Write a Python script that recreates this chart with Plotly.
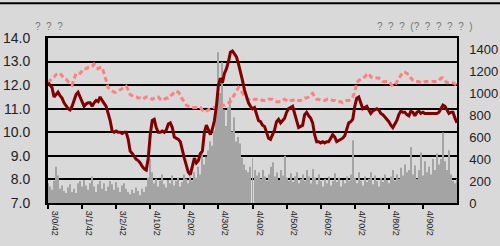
import plotly.graph_objects as go

# ---- data (index = trading day) ----
tick_labels = ["3/0/42", "3/1/42", "3/2/42", "4/10/2", "4/20/2", "4/30/2",
               "4/40/2", "4/50/2", "4/60/2", "4/70/2", "4/80/2", "4/90/2"]
tick_pos = [0, 17, 34, 51, 68, 85, 102, 119, 136, 153, 170, 187]

price = [12.1, 12.0, 11.9, 11.5, 11.6, 11.7, 11.55, 11.45, 11.25, 11.15,
         11.0, 10.95, 11.1, 11.35, 11.6, 11.7, 11.5, 11.35, 11.1, 11.2,
         11.25, 11.25, 11.1, 11.25, 11.35, 11.3, 11.5, 11.35, 11.2, 11.1,
         10.8, 10.5, 10.05, 10.0, 10.05, 10.0, 10.0, 9.95, 10.0, 10.0,
         9.7, 9.2, 9.1, 8.95, 8.85, 8.8, 8.7, 8.55, 8.45, 8.4,
         8.9, 9.9, 10.5, 10.55, 10.2, 10.0, 10.0, 10.05, 10.0, 10.1,
         10.35, 10.4, 10.2, 9.8, 9.75, 9.7, 9.6, 9.2, 8.9, 8.6,
         8.3, 8.2, 8.5, 8.9, 8.7, 8.8, 9.1, 9.2, 10.0, 10.3,
         10.1, 9.9, 10.15, 10.5, 11.1, 12.0, 12.3, 12.1, 12.5, 12.7,
         13.0, 13.4, 13.45, 13.3, 13.2, 12.9, 12.6, 12.2, 11.8, 11.5,
         11.25, 11.1, 11.0, 11.05, 10.8, 10.5, 10.45, 10.3, 10.25, 10.0,
         9.75, 9.7, 9.9, 10.1, 10.45, 10.55, 10.4, 10.5, 10.6, 10.85,
         11.0, 11.05, 11.1, 10.8, 10.5, 10.2, 10.25, 10.3, 10.75, 10.85,
         10.7, 10.6, 10.4, 9.9, 9.6, 9.6, 9.55, 9.6, 9.55, 9.6,
         9.6, 9.75, 9.9, 9.8, 9.6, 9.65, 9.7, 9.75, 9.85, 10.1,
         10.4, 10.45, 10.55, 11.1, 11.45, 11.5, 11.2, 11.0, 11.05, 11.1,
         10.95, 10.8, 10.9, 10.95, 11.0, 10.95, 10.8, 10.75, 10.65, 10.55,
         10.45, 10.3, 10.2, 10.35, 10.5, 10.75, 10.9, 10.85, 10.85, 10.75,
         10.7, 10.9, 10.85, 10.7, 10.85, 10.9, 10.8, 10.85, 10.8, 10.8,
         10.8, 10.8, 10.8, 10.8, 10.8, 10.85, 11.0, 11.15, 11.1, 10.95,
         10.8, 10.85, 10.85, 10.6, 10.4]

avg_price = [12.1, 12.2, 12.3, 12.35, 12.45, 12.5, 12.5, 12.4, 12.3, 12.25,
             12.15, 12.05, 12.0, 12.3, 12.5, 12.5, 12.5, 12.6, 12.7, 12.7,
             12.75, 12.75, 12.8, 12.9, 12.85, 12.7, 12.75, 12.75, 12.5, 12.2,
             11.9, 11.8, 11.75, 11.7, 11.7, 11.75, 11.8, 11.85, 11.9, 11.95,
             11.8, 11.6, 11.55, 11.5, 11.5, 11.45, 11.45, 11.4, 11.45, 11.5,
             11.5, 11.45, 11.4, 11.45, 11.5, 11.5, 11.4, 11.35, 11.4, 11.45,
             11.45, 11.55, 11.6, 11.7, 11.75, 11.7, 11.6, 11.4, 11.3, 11.15,
             11.1, 11.05, 11.05, 11.05, 11.05, 11.05, 11.05, 10.95, 10.85, 10.9,
             10.95, 11.0, 11.05, 11.05, 11.1, 11.1, 11.15, 11.15, 11.15, 11.2,
             11.25, 11.3, 11.45, 11.6, 11.8, 11.9, 11.8, 11.65, 11.55, 11.45,
             11.4, 11.35, 11.35, 11.4, 11.4, 11.4, 11.4, 11.35, 11.35, 11.35,
             11.4, 11.4, 11.4, 11.35, 11.3, 11.3, 11.3, 11.35, 11.4, 11.35,
             11.3, 11.35, 11.35, 11.4, 11.35, 11.35, 11.35, 11.4, 11.45, 11.45,
             11.5, 11.6, 11.65, 11.5, 11.4, 11.4, 11.35, 11.35, 11.35, 11.4,
             11.4, 11.4, 11.35, 11.35, 11.3, 11.3, 11.3, 11.25, 11.3, 11.35,
             11.35, 11.4, 11.5, 11.7, 12.1, 12.2, 12.25, 12.3, 12.35, 12.45,
             12.5, 12.35, 12.3, 12.3, 12.3, 12.3, 12.25, 12.15, 12.15, 12.15,
             12.15, 12.05, 11.95, 12.0, 12.15, 12.3, 12.45, 12.55, 12.55, 12.5,
             12.45, 12.3, 12.2, 12.15, 12.15, 12.15, 12.1, 12.1, 12.15, 12.15,
             12.15, 12.15, 12.15, 12.15, 12.15, 12.2, 12.3, 12.3, 12.2, 12.1,
             12.1, 12.1, 12.1, 12.05, 12.0]

volume = [180, 150, 120, 200, 330, 250, 130, 160, 110, 90,
          140, 170, 100, 130, 90, 180, 200, 150, 210, 160,
          120, 180, 240, 150, 100, 170, 200, 130, 180, 110,
          150, 200, 170, 120, 190, 140, 100, 160, 180, 130,
          100, 80, 120, 90, 140, 110, 70, 130, 100, 150,
          230, 400, 280, 180, 220, 150, 200, 260, 170, 140,
          210, 180, 250, 160, 200, 230, 150, 190, 260, 220,
          180, 240, 200, 280, 230, 330, 260, 460, 350, 420,
          480, 560, 520, 660, 900, 1370, 1000, 1280, 850, 700,
          870, 960, 650, 780, 560, 600, 540, 410, 350, 300,
          280, 330, 410, 300, 250, 280, 220, 300, 240, 200,
          260, 330, 370, 240, 280, 210, 300, 250, 430, 230,
          200, 270, 190, 240, 280, 180, 220, 260, 200, 300,
          240, 180, 310, 230, 170, 260, 200, 150, 220, 180,
          240, 160, 200, 270, 190, 230, 150, 210, 180, 240,
          200, 260, 570, 230, 180, 280, 200, 160, 240, 190,
          220, 280, 170, 250, 200, 150, 230, 190, 260, 210,
          180, 240, 300, 200, 260, 220, 320, 250, 350, 280,
          300, 510, 260, 340, 220, 300, 460, 250, 380, 280,
          330, 260, 400, 300, 450, 350, 400, 640, 380, 300,
          480, 260, 200, 180, 220]

days = list(range(len(price)))

FONT = "Liberation Sans, Arial, sans-serif"
BG = "#d9d9d9"
SP = "\u00a0\u00a0"

fig = go.Figure()
fig.add_trace(go.Bar(x=days, y=volume, yaxis="y", marker=dict(color="#a4a4a4", line=dict(width=0)),
                     showlegend=False))
fig.add_trace(go.Scatter(x=days, y=avg_price, yaxis="y2", mode="lines",
                         line=dict(color="#ff8080", width=3, dash="5px,3px"), showlegend=False))
fig.add_trace(go.Scatter(x=days, y=price, yaxis="y2", mode="lines",
                         line=dict(color="#800000", width=3), showlegend=False))

fig.update_layout(
    width=500, height=246,
    margin=dict(l=48, r=43, t=38, b=43, autoexpand=False),
    paper_bgcolor=BG, plot_bgcolor=BG,
    bargap=0.5,
    font=dict(family=FONT, size=14, color="#222"),
    xaxis=dict(range=[0, 204], tickvals=tick_pos, ticktext=tick_labels,
               tickfont=dict(size=9, color="#222"), tickangle=90,
               ticks="outside", ticklen=4, tickwidth=2, tickcolor="black",
               ticklabelshift=7, automargin=False,
               showline=True, linecolor="black", linewidth=2, mirror=True,
               showgrid=False, zeroline=False),
    yaxis=dict(range=[0, 1500], tickvals=[0, 200, 400, 600, 800, 1000, 1200, 1400],
               side="right", showgrid=False, zeroline=False, automargin=False,
               showline=True, linecolor="black", linewidth=1.5,
               tickfont=dict(size=13), ticks="", ticklabelstandoff=8),
    yaxis2=dict(range=[7, 14], dtick=1, tickformat=".1f", overlaying="y", side="left",
                showgrid=True, gridcolor="black", gridwidth=1.5, zeroline=False,
                showline=True, linecolor="black", linewidth=3, automargin=False,
                ticks="", ticklabelstandoff=12),
    annotations=[
        dict(text=SP.join(["?"] * 3), xref="paper", yref="paper", x=-0.037, y=1.067,
             xanchor="left", yanchor="middle", showarrow=False,
             font=dict(size=10, color="#777")),
        dict(text=SP.join(["?", "?", "?", "(?", "?", "?", "?", "?", ")"]),
             xref="paper", yref="paper", x=0.8, y=1.067,
             xanchor="left", yanchor="middle", showarrow=False,
             font=dict(size=10, color="#777")),
    ],
    shapes=[dict(type="line", xref="paper", yref="paper", x0=-0.2, x1=1.2, y0=1.21, y1=1.21,
                 line=dict(color="black", width=2))],
)

page_js = ("document.documentElement.style.margin='0';"
           "document.body.style.margin='0';"
           "document.body.style.padding='0';"
           "document.documentElement.style.overflow='hidden';"
           "document.body.style.overflow='hidden';"
           "document.body.style.background='" + BG + "';")

fig.write_html("out.html", post_script=page_js, config={"displayModeBar": False})
